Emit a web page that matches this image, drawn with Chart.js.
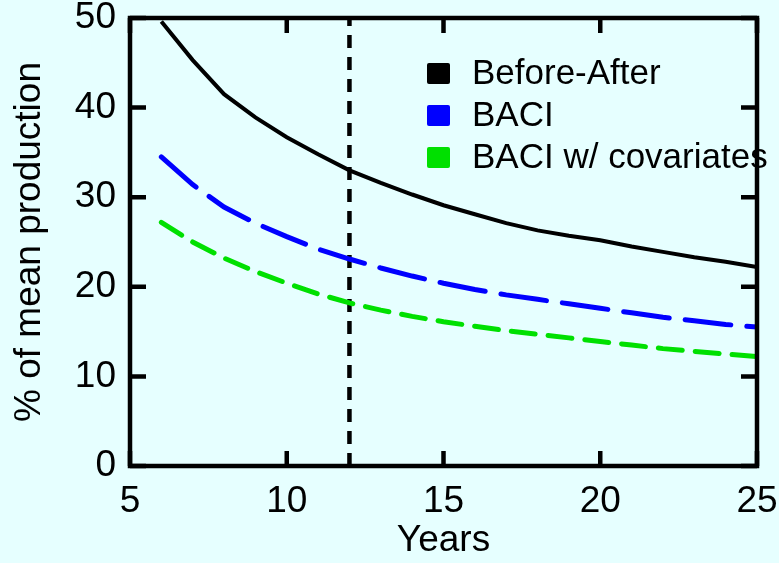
<!DOCTYPE html>
<html>
<head>
<meta charset="utf-8">
<script src="https://cdn.jsdelivr.net/npm/chart.js@4.4.1/dist/chart.umd.min.js"></script>
<style>
  html, body { margin: 0; padding: 0; background: #e6ffff; }
  #wrap { width: 779px; height: 563px; }
</style>
</head>
<body>
<div id="wrap"><canvas id="chart" width="779" height="563"></canvas></div>
<script>
// values (one point per year)
const years = [6, 7, 8, 9, 10, 11, 12, 13, 14, 15, 16, 17, 18, 19, 20, 21, 22, 23, 24, 25];
const beforeAfter = [49.6, 45.3, 41.5, 38.9, 36.7, 34.8, 33.0, 31.6, 30.3, 29.1, 28.1, 27.1, 26.3, 25.7, 25.2, 24.5, 23.9, 23.3, 22.8, 22.2];
const baci = [34.5, 31.4, 28.9, 27.1, 25.6, 24.2, 23.1, 22.1, 21.2, 20.4, 19.7, 19.1, 18.6, 18.1, 17.6, 17.1, 16.6, 16.2, 15.8, 15.5];
const baciCov = [27.2, 25.0, 23.2, 21.7, 20.4, 19.2, 18.2, 17.4, 16.7, 16.1, 15.6, 15.1, 14.7, 14.3, 13.9, 13.5, 13.1, 12.8, 12.5, 12.2];
const seriesNames = ["Before-After", "BACI", "BACI w/ covariates"];
const markerYear = 12;
const xTicks = [5, 10, 15, 20, 25];
const yTicks = [0, 10, 20, 30, 40, 50];

const FONT = '"Liberation Sans", Arial, sans-serif';

function pts(vals) {
    return years.map((yr, i) => ({ x: yr, y: vals[i] }));
}

// background, frame, inward ticks and the legend
const decor = {
    id: 'decor',
    beforeDraw(chart) {
        const c = chart.ctx;
        c.save();
        c.fillStyle = '#e6ffff';
        c.fillRect(0, 0, chart.width, chart.height);
        c.restore();
    },
    afterDraw(chart) {
        const c = chart.ctx;
        const a = chart.chartArea;
        const xs = chart.scales.x, ys = chart.scales.y;
        c.save();
        c.strokeStyle = '#000';
        c.lineWidth = 4.5;
        c.lineCap = 'butt';
        c.beginPath();
        xTicks.forEach(v => {
            const px = xs.getPixelForValue(v);
            c.moveTo(px, a.bottom); c.lineTo(px, a.bottom - 15);
            c.moveTo(px, a.top); c.lineTo(px, a.top + 15);
        });
        yTicks.forEach(v => {
            const py = ys.getPixelForValue(v);
            c.moveTo(a.left, py); c.lineTo(a.left + 16, py);
            c.moveTo(a.right, py); c.lineTo(a.right - 16, py);
        });
        c.stroke();
        c.strokeRect(a.left, a.top, a.right - a.left, a.bottom - a.top);

        // legend
        const sets = chart.data.datasets.filter(d => d.inLegend);
        c.font = '35px ' + FONT;
        c.textBaseline = 'middle';
        sets.forEach((d, i) => {
            const cy = 73 + i * 42;
            c.fillStyle = d.borderColor;
            c.beginPath();
            c.roundRect(427, cy - 10, 23, 21, 2);
            c.fill();
            c.fillStyle = '#000';
            c.fillText(d.label, 472, cy + 1);
        });
        c.restore();
    }
};

new Chart(document.getElementById('chart'), {
    type: 'line',
    data: {
        datasets: [
            {
                label: seriesNames[0],
                data: pts(beforeAfter),
                borderColor: '#000000',
                borderWidth: 4,
                inLegend: true
            },
            {
                label: seriesNames[1],
                data: pts(baci),
                borderColor: '#0000ff',
                borderWidth: 5,
                borderDash: [46, 16],
                borderCapStyle: 'round',
                inLegend: true
            },
            {
                label: seriesNames[2],
                data: pts(baciCov),
                borderColor: '#00e000',
                borderWidth: 5,
                borderDash: [24, 13],
                borderCapStyle: 'round',
                inLegend: true
            },
            {
                label: 'marker',
                data: [{ x: markerYear, y: 0 }, { x: markerYear, y: 50 }],
                borderColor: '#000000',
                borderWidth: 4.5,
                borderDash: [13, 9],
                inLegend: false
            }
        ]
    },
    options: {
        responsive: false,
        animation: false,
        events: [],
        elements: {
            point: { radius: 0 },
            line: { tension: 0, fill: false }
        },
        layout: { padding: { top: 18, right: 22, left: 0, bottom: 0 } },
        plugins: {
            legend: { display: false },
            tooltip: { enabled: false }
        },
        scales: {
            x: {
                type: 'linear',
                min: 5,
                max: 25,
                afterBuildTicks: s => { s.ticks = xTicks.map(v => ({ value: v })); },
                afterFit: s => { s.height = 97; s.paddingLeft = 0; s.paddingRight = 0; },
                grid: { display: false, drawTicks: false },
                border: { display: false },
                ticks: {
                    color: '#000',
                    padding: 14,
                    maxRotation: 0,
                    font: { family: FONT, size: 37 }
                },
                title: {
                    display: true,
                    text: 'Years',
                    color: '#000',
                    padding: { top: 0, bottom: 0 },
                    font: { family: FONT, size: 37 }
                }
            },
            y: {
                min: 0,
                max: 50,
                afterBuildTicks: s => { s.ticks = yTicks.map(v => ({ value: v })); },
                afterFit: s => { s.width = 130; s.paddingTop = 0; s.paddingBottom = 0; },
                grid: { display: false, drawTicks: false },
                border: { display: false },
                ticks: {
                    color: '#000',
                    padding: 14,
                    font: { family: FONT, size: 37 }
                },
                title: {
                    display: true,
                    text: '% of mean production',
                    color: '#000',
                    padding: { top: 8, bottom: 0 },
                    font: { family: FONT, size: 37 }
                }
            }
        }
    },
    plugins: [decor]
});
</script>
</body>
</html>
